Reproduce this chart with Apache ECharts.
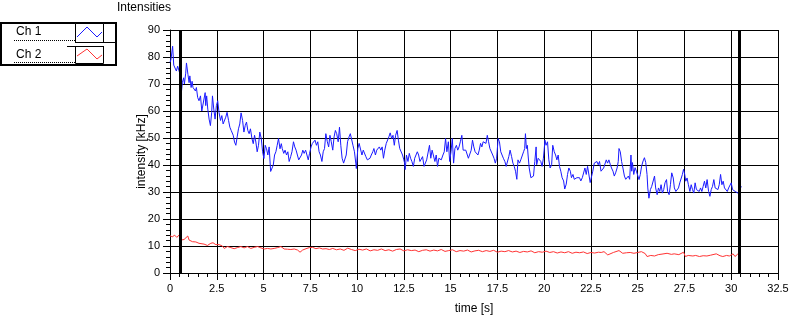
<!DOCTYPE html>
<html><head><meta charset="utf-8">
<script src="https://cdn.jsdelivr.net/npm/echarts@6/dist/echarts.min.js"></script>
<style>html,body{margin:0;padding:0;background:#fff}#c{width:802px;height:320px}</style>
</head><body><div id="c"></div>
<script>
const seriesNames = ['Ch 1', 'Ch 2'];
const cursorTimes = [0.57, 30.45];
const ch1Data = [
[0,78],[0.05,79],[0.14,84],[0.2,77],[0.29,76.6],[0.34,74.8],[0.41,76.6],[0.48,77],[0.52,74],[0.59,65.6],
[0.66,70.5],[0.73,72.3],[0.77,70],[0.84,74],[0.88,77.8],[0.95,77.8],[0.96,73.5],[1.02,70.5],[1.06,73],[1.13,68.7],
[1.18,71],[1.23,68.7],[1.3,69.3],[1.36,67.4],[1.41,68.7],[1.48,65],[1.55,63.8],[1.63,65.6],[1.7,60],[1.77,59.5],
[1.88,66.8],[1.91,62],[1.96,65.6],[2.02,60.7],[2.09,57],[2.16,54.6],[2.23,59.5],[2.27,65.6],[2.34,60.7],[2.41,57],
[2.48,62],[2.55,63.8],[2.62,59.5],[2.7,56.5],[2.77,58.3],[2.84,55.2],[2.91,54.6],[2.98,57.7],[3.05,59.5],[3.13,56.5],
[3.2,54],[3.27,52.8],[3.38,51],[3.45,48.5],[3.52,47.3],[3.59,50.4],[3.66,53.4],[3.73,55.2],[3.8,59.3],[3.88,56.5],
[3.95,52.2],[4.02,54.6],[4.09,55.9],[4.16,52.8],[4.23,51.6],[4.3,53.4],[4.38,49.8],[4.45,47.9],[4.52,51],[4.59,48.5],
[4.66,44.9],[4.73,47.3],[4.8,52.2],[4.88,49.8],[4.95,44.9],[5.02,42.4],[5.09,47.3],[5.16,46],[5.23,43.7],[5.3,46.7],
[5.38,37.6],[5.45,38.2],[5.52,40],[5.59,43.7],[5.66,44.9],[5.73,47.3],[5.8,49.8],[5.88,46],[5.95,47.9],
[6.0,46.1],[6.08,44.3],[6.15,45.5],[6.23,43.7],[6.3,44.9],[6.37,41.3],[6.45,43.1],[6.52,44.9],[6.6,48.6],[6.67,46.7],
[6.74,45.5],[6.81,43.7],[6.88,41.9],[6.96,41.3],[7.03,43.7],[7.1,45.5],[7.17,44.3],[7.25,45.5],[7.32,44.9],[7.39,41.9],
[7.46,44.3],[7.54,46.7],[7.61,48],[7.68,48.6],[7.75,49.2],[7.83,47.3],[7.9,48.6],[7.97,44.9],[8.04,43.7],[8.12,41.3],
[8.19,44.9],[8.26,46.1],[8.33,51.6],[8.41,48.6],[8.48,46.7],[8.55,51],[8.62,48.6],[8.7,45.5],[8.77,50.4],[8.84,52.8],
[8.91,51.6],[8.99,48.6],[9.06,54],[9.13,47.3],[9.2,42.5],[9.28,40.7],[9.35,41.3],[9.42,43.7],[9.49,48.6],[9.57,50.4],
[9.64,51.6],[9.71,52.2],[9.78,47.3],[9.86,44.9],[9.93,40.7],[9.96,38.7],[10.04,46.1],[10.11,48],[10.18,48.6],[10.26,43.7],
[10.33,45.5],[10.4,44.9],[10.47,43.1],[10.55,41.9],[10.62,41.3],[10.69,42.5],[10.76,43.7],[10.84,44.9],[10.9,46.1],[10.98,43.7],
[11.05,45.5],[11.12,44.9],[11.19,46.7],[11.27,45.5],[11.34,46.7],[11.41,42.5],[11.48,45.5],[11.56,48],[11.63,48.6],[11.7,50.4],
[11.77,51.9],[11.85,49.8],[11.92,51],[11.99,47.3],[12.06,51],[12.14,52.8],[12.21,49.2],[12.28,46.1],[12.35,46.7],[12.43,43.7],
[12.5,41.9],[12.54,40.7],[12.57,38.3],[12.64,43.7],[12.72,41.3],[12.79,44.3],[12.86,42.5],[12.93,41.3],[13.01,39.5],[13.08,42.5],
[13.15,43.7],[13.22,44.9],[13.29,43.7],[13.36,41.3],[13.43,41.9],[13.5,43.1],[13.58,39.5],[13.65,40.1],[13.72,41.9],[13.8,42.5],
[13.87,47.3],[13.94,42.5],[14.01,45.5],[14.08,46.1],[14.16,41.3],[14.23,43.7],[14.3,39.5],[14.37,42.5],[14.44,43.1],[14.5,41.9],
[14.59,43.7],[14.66,44.9],[14.73,49.8],[14.8,44.9],[14.88,48.6],[14.95,41.3],[15.02,44.9],[15.09,49.8],[15.16,40.7],[15.23,46.1],
[15.31,47.3],[15.38,45.5],[15.45,46.7],[15.52,48.6],[15.6,51],[15.67,45.5],[15.74,46.1],[15.81,45.5],[15.88,44.9],[15.95,42.5],
[16.03,43.1],[16.1,45.5],[16.17,49.2],[16.24,46.7],[16.31,44.9],[16.38,45.5],[16.46,43.7],[16.53,45.5],[16.6,48],[16.67,46.7],
[16.74,48.6],[16.82,49.2],[16.89,48],[16.96,51],[17.03,48.6],[17.1,46.1],[17.18,45.5],[17.25,43.7],[17.32,42.5],[17.39,40.7],
[17.46,42.5],[17.54,49.8],[17.61,48.6],[17.68,44.9],[17.75,43.7],[17.82,42.5],[17.9,41.3],[17.97,39.5],[18.04,39.5],[18.11,43.1],
[18.18,45.5],[18.26,43.1],[18.33,40.7],[18.4,39.5],[18.47,37.7],[18.54,34.7],[18.6,41.9],[18.68,40.7],[18.75,41.9],[18.82,41.3],
[18.9,44.9],[18.96,46.1],[19.0,51.6],[19.05,46.1],[19.1,47.3],[19.14,43.7],[19.2,38.9],[19.29,35.3],[19.36,34.7],[19.43,35.9],
[19.5,41.3],[19.57,46.7],[19.6,40.1],[19.68,42.5],[19.75,41.9],[19.82,41.3],[19.89,39.5],[19.96,42.5],[20.0,45.5],[20.04,49.2],
[20.1,47.3],[20.18,48.6],[20.25,41.9],[20.32,38.9],[20.4,40.1],[20.46,47.3],[20.54,44.9],[20.61,43.7],[20.68,41.9],[20.75,43.7],
[20.82,39.5],[20.89,37.7],[20.96,35.3],[21.04,34.1],[21.1,31.1],[21.18,32.9],[21.25,36.5],[21.32,38.9],[21.4,37.7],[21.46,35.3],
[21.54,36.5],[21.61,34.7],[21.68,35.3],[21.75,35.3],[21.82,34.7],[21.89,35.3],[21.96,34.1],[22.04,35.3],[22.1,35.9],[22.18,38.9],
[22.25,36.5],[22.32,39.5],[22.4,38.9],[22.46,33.5],[22.54,35.9],[22.6,37.7],[22.68,40.7],[22.75,40.1],[22.82,41.3],[22.89,40.1],
[22.96,41.3],[23.04,37.7],[23.11,37.1],[23.18,38.9],[23.25,39.5],[23.32,41.9],[23.39,40.7],[23.46,41.9],[23.54,40.1],[23.6,38.9],
[23.68,37.7],[23.75,35.9],[23.82,37.1],[23.9,38.9],[23.96,41.3],[24.0,46.1],[24.07,44.9],[24.14,41.3],[24.21,38.9],[24.29,35.9],
[24.36,34.7],[24.43,34.1],[24.5,35.9],[24.57,34.7],[24.64,43.7],[24.68,37.7],[24.72,40.9],[24.79,36.5],[24.86,39],[24.93,37.7],
[25.0,38.4],[25.07,34.6],[25.14,36.5],[25.21,39.6],[25.29,41.5],[25.36,42.7],[25.43,40.9],[25.5,36.5],[25.54,31.5],[25.6,27.7],
[25.68,30.9],[25.75,32.1],[25.82,32.7],[25.9,35.9],[25.96,31.5],[26.04,29],[26.11,31.5],[26.18,30.2],[26.25,32.7],[26.32,29.6],
[26.39,30.9],[26.46,33.4],[26.54,34.6],[26.6,30.2],[26.68,29],[26.75,32.7],[26.82,37.1],[26.9,35.2],[26.96,31.5],[27.04,30.2],
[27.11,30.9],[27.18,31.5],[27.25,33.4],[27.32,34],[27.39,36.5],[27.45,38.4],[27.5,37.1],[27.57,34],[27.64,35.2],[27.71,32.7],
[27.79,30.2],[27.86,32.7],[27.93,30.9],[28.0,29.6],[28.07,33.4],[28.14,30.9],[28.21,31.5],[28.29,30.2],[28.36,31.5],[28.43,30.2],
[28.5,32.1],[28.57,34],[28.64,31.5],[28.71,34.6],[28.79,30.2],[28.86,28.4],[28.93,30.9],[29.0,32.1],[29.07,34.6],[29.14,31.5],
[29.21,32.1],[29.29,30.9],[29.36,32.7],[29.43,36.5],[29.5,32.7],[29.57,34],[29.64,31.5],[29.71,32.1],[29.79,30.2],[29.86,31.5],
[29.93,30.9],[30.0,33.4],[30.07,30.9],[30.14,31.5],[30.21,30.2],[30.29,30.9],[30.36,29.6],[30.43,30.2],[30.54,32.1]
];
const ch2Data = [
[0,13.8],[0.12,13.4],[0.25,14],[0.36,13.2],[0.48,14],[0.57,12.2],[0.66,12],[0.75,12.4],[0.84,12],[0.95,13.7],
[1.02,12.2],[1.2,11.6],[1.38,11.5],[1.55,11],[1.64,10.4],[1.82,10.7],[2.0,10.2],[2.18,11],[2.3,11.2],[2.45,10.5],
[2.63,10.5],[2.8,10],[2.9,9.1],[3.07,9.8],[3.25,9.4],[3.43,9],[3.6,9.4],[3.79,9.8],[3.96,9.3],[4.14,9.8],
[4.32,9.1],[4.5,9.5],[4.68,9.8],[4.86,9.3],[5.04,8.9],[5.21,9.1],[5.39,8.9],[5.57,9.1],[5.75,9.4],[5.93,9.8],
[6.1,8.9],[6.29,8.8],[6.46,8.7],[6.64,8.9],[6.82,8.5],[6.95,7.7],[7.09,8.5],[7.27,9],[7.45,9.4],[7.62,9.5],
[7.8,9],[7.98,9.3],[8.16,8.9],[8.34,9],[8.52,8.7],[8.7,9.1],[8.9,8.6],[9.1,8.9],[9.3,8.4],[9.5,9.2],
[9.7,8.7],[9.9,8.3],[10.1,8.8],[10.3,8.5],[10.5,8.9],[10.7,8.2],[10.9,8.6],[11.1,8.4],[11.3,8.9],[11.5,8.3],
[11.7,8.6],[11.9,8.1],[12.1,8.7],[12.3,8.9],[12.5,8.2],[12.7,8.6],[12.9,8.3],[13.1,8.5],[13.3,7.9],[13.5,8.4],
[13.7,8.6],[13.9,8.1],[14.1,8.5],[14.3,8.2],[14.5,8.7],[14.7,8.0],[14.9,8.3],[15.1,8.6],[15.3,7.9],[15.5,8.3],
[15.7,8.1],[15.9,8.5],[16.1,7.8],[16.3,8.2],[16.5,8.4],[16.7,7.9],[16.9,8.3],[17.1,8.0],[17.3,8.4],[17.5,7.7],
[17.7,8.1],[17.9,7.9],[18.1,8.3],[18.3,7.8],[18.5,8.1],[18.7,7.6],[18.9,8.0],[19.1,7.8],[19.3,8.2],[19.5,7.5],
[19.7,7.9],[19.9,7.7],[20.1,8.1],[20.3,7.6],[20.5,7.9],[20.7,7.4],[20.9,7.8],[21.1,7.5],[21.3,7.9],[21.5,7.3],
[21.7,7.7],[21.9,7.5],[22.1,7.8],[22.3,7.2],[22.5,7.6],[22.7,7.4],[22.9,7.7],[23.05,7.6],[23.2,7.9],[23.4,6.7],
[23.5,7.2],[23.7,7.6],[24.0,8.3],[24.2,7.3],[24.4,7.5],[24.6,7.6],[24.8,7.3],[25.0,7.6],[25.2,7.9],[25.4,7.2],
[25.5,6.1],[25.7,6.5],[25.9,6.3],[26.1,6.8],[26.3,7.0],[26.57,7.3],[26.8,6.9],[26.95,7.1],[27.2,6.8],[27.45,7.7],
[27.55,6.1],[27.7,6.5],[27.95,6.3],[28.1,6.5],[28.3,6.1],[28.5,6.4],[28.7,6.3],[28.9,6.6],[29.2,7.1],[29.4,6.4],
[29.55,6.1],[29.75,6.5],[29.9,6.3],[30.1,7.1],[30.2,6.1],[30.35,7.0],[30.5,6.3]
];
const FONT = 'Liberation Sans';
const chart = echarts.init(document.getElementById('c'), null, {renderer: 'canvas'});
const axisCommon = {
  type: 'value',
  nameLocation: 'middle',
  nameMoveOverlap: false,
  nameTextStyle: {fontFamily: FONT, fontSize: 12, color: '#000'},
  axisLine: {show: true, onZero: false, lineStyle: {color: '#000', width: 1}},
  axisTick: {show: true, inside: false, length: 7, lineStyle: {color: '#000', width: 1}},
  minorTick: {show: true, splitNumber: 5, length: 4, lineStyle: {color: '#000', width: 1}},
  axisLabel: {fontFamily: FONT, fontSize: 11, color: '#000'},
  splitLine: {show: true, lineStyle: {color: '#000', width: 1}},
  minorSplitLine: {show: false}
};
chart.setOption({
  animation: false,
  backgroundColor: '#fff',
  grid: {left: 170, right: 24, top: 30, bottom: 44, containLabel: false},
  xAxis: Object.assign({}, axisCommon, {
    min: 0, max: 32.5, interval: 2.5, name: 'time [s]', nameGap: 30,
    axisLabel: Object.assign({}, axisCommon.axisLabel, {margin: 10})
  }),
  yAxis: Object.assign({}, axisCommon, {
    min: 0, max: 90, interval: 10, name: 'intensity [kHz]', nameGap: 22, nameRotate: 90,
    axisLabel: Object.assign({}, axisCommon.axisLabel, {margin: 10})
  }),
  graphic: [
    {type: 'text', left: 117, top: 2, style: {text: 'Intensities', font: '12px "Liberation Sans"', fill: '#000'}},
    {type: 'rect', shape: {x: 1, y: 23, width: 115, height: 42}, style: {fill: '#fff', stroke: '#000', lineWidth: 2}},
    {type: 'text', x: 16, y: 26, style: {text: seriesNames[0], font: '12px "Liberation Sans"', fill: '#000'}},
    {type: 'text', x: 16, y: 49, style: {text: seriesNames[1], font: '12px "Liberation Sans"', fill: '#000'}},
    {type: 'line', shape: {x1: 14, y1: 40.5, x2: 75, y2: 40.5}, style: {stroke: '#000', lineWidth: 1, lineDash: [1, 1]}},
    {type: 'line', shape: {x1: 14, y1: 62.5, x2: 75, y2: 62.5}, style: {stroke: '#000', lineWidth: 1, lineDash: [1, 1]}},
    {type: 'rect', shape: {x: 75.5, y: 23.5, width: 28, height: 19}, style: {fill: '#fff', stroke: '#000', lineWidth: 1}},
    {type: 'rect', shape: {x: 75.5, y: 46.5, width: 28, height: 17}, style: {fill: '#fff', stroke: '#000', lineWidth: 1}},
    {type: 'line', shape: {x1: 75, y1: 42.5, x2: 116, y2: 42.5}, style: {stroke: '#000', lineWidth: 1}},
    {type: 'line', shape: {x1: 67, y1: 46.5, x2: 104, y2: 46.5}, style: {stroke: '#000', lineWidth: 1}},
    {type: 'polyline', shape: {points: [[77, 37], [87, 27], [97, 37], [102, 32]]}, style: {stroke: '#1a1aff', lineWidth: 1, fill: null}},
    {type: 'polyline', shape: {points: [[77, 56], [87, 49], [97, 59], [102, 55]]}, style: {stroke: '#ff3333', lineWidth: 1, fill: null}}
  ],
  series: [
    {
      name: seriesNames[0], type: 'line', data: ch1Data, symbol: 'none', showSymbol: false,
      lineStyle: {color: '#1a1aff', width: 1}, itemStyle: {color: '#1a1aff'}, z: 3,
      markLine: {
        silent: true, symbol: ['none', 'none'], label: {show: false},
        lineStyle: {color: '#000', width: 3, type: 'solid'},
        data: cursorTimes.map(t => ({xAxis: t}))
      }
    },
    {
      name: seriesNames[1], type: 'line', data: ch2Data, symbol: 'none', showSymbol: false,
      lineStyle: {color: '#ff3333', width: 1}, itemStyle: {color: '#ff3333'}, z: 2
    }
  ]
});
</script></body></html>
